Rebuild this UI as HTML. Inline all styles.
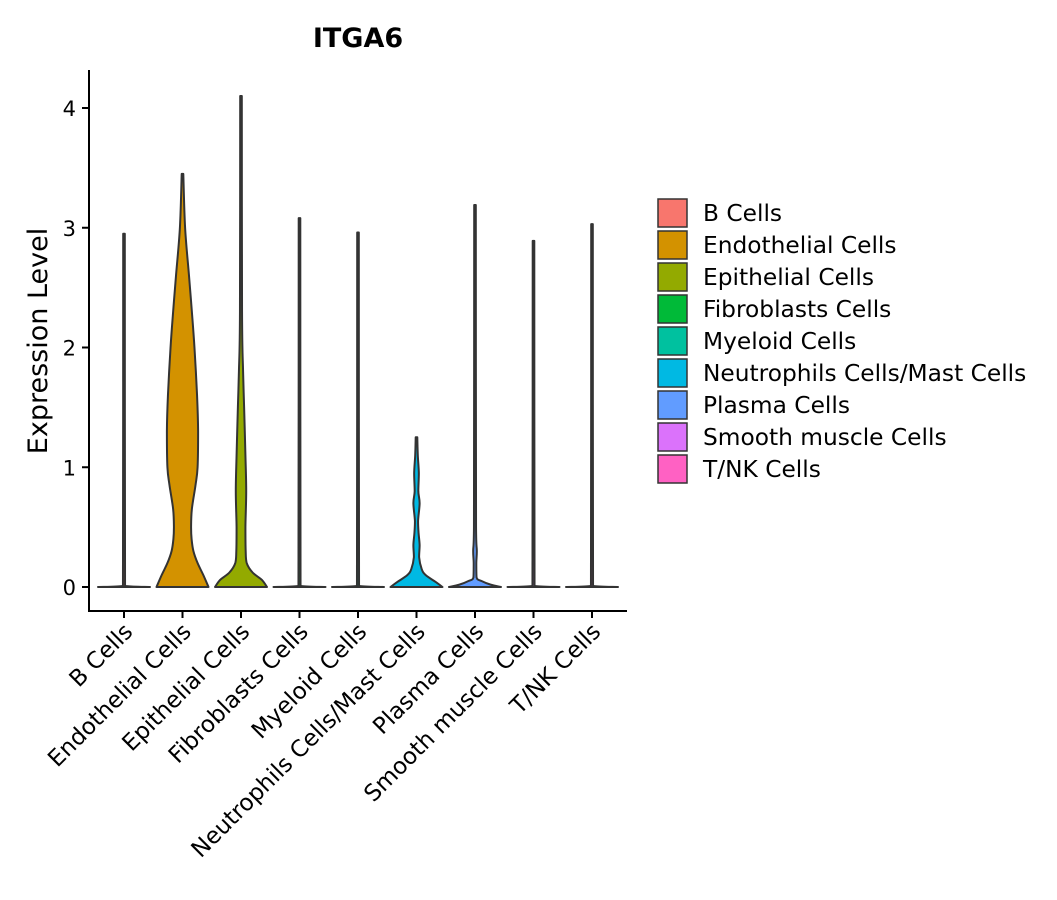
<!DOCTYPE html>
<html><head><meta charset="utf-8"><style>
html,body{margin:0;padding:0;background:#fff;}
svg{display:block;font-family:"DejaVu Sans","Liberation Sans",sans-serif;}
</style></head><body>
<svg id="chart" width="1057" height="900" viewBox="0 0 1057 900">
<text x="358" y="47" text-anchor="middle" font-size="27" font-weight="bold">ITGA6</text>
<g id="plot"></g>
<g id="axes"></g>
<g id="legend"></g>
<text transform="translate(47,341) rotate(-90)" text-anchor="middle" font-size="27">Expression Level</text>
</svg>
<script>
const categories = ["B Cells","Endothelial Cells","Epithelial Cells","Fibroblasts Cells","Myeloid Cells","Neutrophils Cells/Mast Cells","Plasma Cells","Smooth muscle Cells","T/NK Cells"];
const colors = ["#F8766D","#D39200","#93AA00","#00BA38","#00C19F","#00B9E3","#619CFF","#DB72FB","#FF61C3"];
const yTicks = [0,1,2,3,4];
// density profiles: [expression level, relative half-width 0..1]
const profB = [[0,1],[0.01,0.04],[2.95,0.02]];
const profEndo = [[0,1],[0.1,0.8],[0.2,0.58],[0.3,0.42],[0.4,0.35],[0.5,0.33],[0.65,0.36],[0.85,0.5],[1.0,0.58],[1.3,0.6],[1.6,0.56],[2.0,0.46],[2.3,0.36],[2.6,0.25],[3.0,0.1],[3.45,0.02]];
const profEpi = [[0,1],[0.06,0.8],[0.12,0.45],[0.2,0.22],[0.3,0.18],[0.5,0.17],[0.8,0.2],[1.1,0.17],[1.5,0.12],[1.8,0.08],[2.3,0.04],[4.1,0.02]];
const profFib = [[0,1],[0.01,0.04],[3.08,0.02]];
const profMye = [[0,1],[0.01,0.04],[2.96,0.02]];
const profNeu = [[0,1],[0.04,0.75],[0.1,0.35],[0.15,0.2],[0.25,0.1],[0.35,0.12],[0.45,0.08],[0.55,0.06],[0.7,0.12],[0.8,0.07],[0.95,0.09],[1.1,0.05],[1.25,0.02]];
const profPla = [[0,1],[0.02,0.6],[0.05,0.25],[0.08,0.06],[0.2,0.05],[0.3,0.07],[0.5,0.04],[3.19,0.02]];
const profSmo = [[0,1],[0.01,0.04],[2.89,0.02]];
const profTNK = [[0,1],[0.01,0.04],[3.03,0.02]];
const profiles = [profB,profEndo,profEpi,profFib,profMye,profNeu,profPla,profSmo,profTNK];

const NS="http://www.w3.org/2000/svg";
const x0=89, x1=627, yTop=70, yBot=611;
const firstX=124, step=58.5;
function xScale(i){return firstX+step*i;}
function yScale(v){return 587-v*119.75;}
const halfW=26;
function mk(tag,attrs,parent){const e=document.createElementNS(NS,tag);for(const k in attrs)e.setAttribute(k,attrs[k]);parent.appendChild(e);return e;}
function clamp(v,a,b){const lo=Math.min(a,b),hi=Math.max(a,b);return Math.min(hi,Math.max(lo,v));}
function smooth(pts){
  let d="M"+pts[0][0].toFixed(2)+","+pts[0][1].toFixed(2);
  for(let k=0;k<pts.length-1;k++){
    const p0=pts[Math.max(k-1,0)],p1=pts[k],p2=pts[k+1],p3=pts[Math.min(k+2,pts.length-1)];
    const c1=[clamp(p1[0]+(p2[0]-p0[0])/6,p1[0],p2[0]),clamp(p1[1]+(p2[1]-p0[1])/6,p1[1],p2[1])];
    const c2=[clamp(p2[0]-(p3[0]-p1[0])/6,p1[0],p2[0]),clamp(p2[1]-(p3[1]-p1[1])/6,p1[1],p2[1])];
    d+=` C${c1[0].toFixed(2)},${c1[1].toFixed(2)} ${c2[0].toFixed(2)},${c2[1].toFixed(2)} ${p2[0].toFixed(2)},${p2[1].toFixed(2)}`;
  }
  return d;
}
const plot=document.getElementById('plot'), axes=document.getElementById('axes'), legend=document.getElementById('legend');

profiles.forEach((p,i)=>{
  const cx=xScale(i);
  const right=p.map(([v,w])=>[cx+Math.max(w*halfW,0.8),yScale(v)]);
  const left=p.slice().reverse().map(([v,w])=>[cx-Math.max(w*halfW,0.8),yScale(v)]);
  const d=smooth(right)+" L"+smooth(left).slice(1)+" Z";
  const path=mk('path',{d:d,fill:colors[i],stroke:"#333",'stroke-width':2,'stroke-linejoin':'round'},plot);
  
  
});

mk('line',{x1:x0,y1:yTop,x2:x0,y2:yBot+1,stroke:"#000",'stroke-width':2},axes);
mk('line',{x1:x0-1,y1:yBot,x2:x1,y2:yBot,stroke:"#000",'stroke-width':2},axes);
yTicks.forEach(t=>{
  const y=yScale(t);
  mk('line',{x1:x0-7,y1:y,x2:x0,y2:y,stroke:"#000",'stroke-width':2},axes);
  const tx=mk('text',{x:x0-13,y:y+8,'text-anchor':'end','font-size':21},axes);
  tx.textContent=t;
  
  
});
categories.forEach((c,i)=>{
  const x=xScale(i);
  mk('line',{x1:x,y1:yBot,x2:x,y2:yBot+7,stroke:"#000",'stroke-width':2},axes);
  const tx=mk('text',{transform:`translate(${x+10},${yBot+22}) rotate(-45)`,'text-anchor':'end','font-size':23},axes);
  tx.textContent=c;
  
  
});
categories.forEach((c,i)=>{
  const y=199+i*32;
  const r=mk('rect',{x:658,y:y,width:29,height:28,fill:colors[i],stroke:"#333",'stroke-width':1.5},legend);
  
  
  const tx=mk('text',{x:703,y:y+22,'font-size':23.3},legend);
  tx.textContent=c;
  
  
});
</script>
</body></html>
